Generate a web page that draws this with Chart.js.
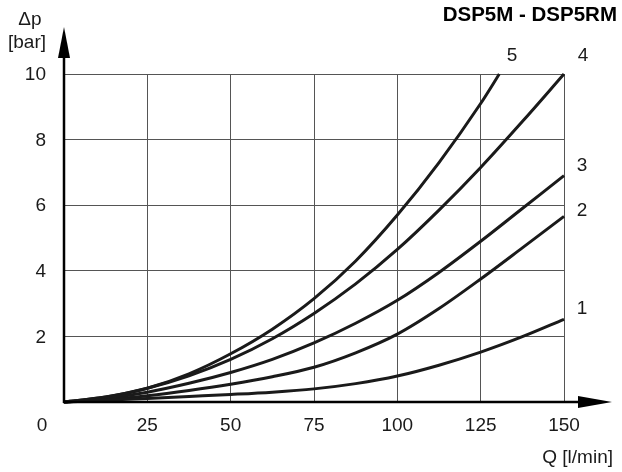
<!DOCTYPE html>
<html>
<head>
<meta charset="utf-8">
<script src="https://cdn.jsdelivr.net/npm/chart.js@4"></script>
<style>
  html, body { margin: 0; padding: 0; background: #fff; }
  #wrap { width: 622px; height: 472px; position: relative; }
</style>
</head>
<body>
<div id="wrap"><canvas id="myChart" width="622" height="472"></canvas></div>
<script>
// flow Q [l/min] and pressure drop [bar]
const xTicks = [25, 50, 75, 100, 125, 150];
const yTicks = [2, 4, 6, 8, 10];

const qAll = [0, 12.5, 25, 37.5, 50, 62.5, 75, 87.5, 100, 112.5, 125, 137.5, 150];
const dp1 = [0, 0.05, 0.11, 0.17, 0.23, 0.3, 0.4, 0.56, 0.79, 1.12, 1.52, 1.99, 2.52];
const dp2 = [0, 0.07, 0.19, 0.35, 0.54, 0.77, 1.06, 1.5, 2.07, 2.85, 3.75, 4.7, 5.66];
const dp3 = [0, 0.11, 0.3, 0.57, 0.9, 1.3, 1.8, 2.4, 3.1, 3.95, 4.9, 5.9, 6.9];
const dp4 = [0, 0.15, 0.42, 0.8, 1.3, 1.93, 2.7, 3.6, 4.65, 5.85, 7.15, 8.55, 10];

const q5 = [0, 12.5, 25, 37.5, 50, 62.5, 75, 87.5, 100, 112.5, 125, 130.6];
const dp5 = [0, 0.15, 0.42, 0.86, 1.47, 2.22, 3.15, 4.3, 5.7, 7.3, 9.1, 10];

const curveNames = ['1', '2', '3', '4', '5'];

function pts(xs, ys) {
    return ys.map((y, i) => ({ x: xs[i], y: y }));
}

const FONT = '"Liberation Sans", Arial, sans-serif';

const decor = {
    id: 'decor',
    afterDraw(chart) {
        const ctx = chart.ctx;
        const xs = chart.scales.x, ys = chart.scales.y;
        const x0 = xs.getPixelForValue(0), y0 = ys.getPixelForValue(0);
        ctx.save();
        // axes with arrows
        ctx.strokeStyle = '#000';
        ctx.fillStyle = '#000';
        ctx.lineWidth = 2.5;
        ctx.beginPath();
        ctx.moveTo(x0, y0 + 1);
        ctx.lineTo(x0, 50);
        ctx.moveTo(x0 - 1, y0);
        ctx.lineTo(585, y0);
        ctx.stroke();
        ctx.beginPath();
        ctx.moveTo(x0, 27);
        ctx.lineTo(x0 - 6, 58);
        ctx.lineTo(x0 + 6, 58);
        ctx.closePath();
        ctx.fill();
        ctx.beginPath();
        ctx.moveTo(612, y0);
        ctx.lineTo(578, y0 - 6);
        ctx.lineTo(578, y0 + 6);
        ctx.closePath();
        ctx.fill();

        // tick labels
        ctx.fillStyle = '#1a1a1a';
        ctx.font = '19px ' + FONT;
        ctx.textBaseline = 'middle';
        ctx.textAlign = 'center';
        xTicks.forEach(v => ctx.fillText(String(v), xs.getPixelForValue(v), 426));
        ctx.fillText('0', 42, 426);
        ctx.textAlign = 'right';
        yTicks.forEach(v => ctx.fillText(String(v), 46, ys.getPixelForValue(v) + 1));

        // axis titles
        ctx.textAlign = 'center';
        ctx.fillText('\u0394p', 30, 20);
        ctx.fillText('[bar]', 27, 43);
        ctx.textAlign = 'right';
        ctx.fillText('Q [l/min]', 613, 458);
        ctx.font = 'bold 20.5px ' + FONT;
        ctx.fillStyle = '#000';
        ctx.fillText('DSP5M - DSP5RM', 617, 15);

        // curve numbers
        ctx.font = '19px ' + FONT;
        ctx.fillStyle = '#1a1a1a';
        ctx.textAlign = 'center';
        const labelPos = [[582, 309], [582, 211], [582, 166], [583, 56], [512, 56]];
        curveNames.forEach((n, i) => ctx.fillText(n, labelPos[i][0], labelPos[i][1]));
        ctx.restore();
    }
};

const series = [[qAll, dp1], [qAll, dp2], [qAll, dp3], [qAll, dp4], [q5, dp5]];

const ctx = document.getElementById('myChart').getContext('2d');
const myChart = new Chart(ctx, {
    type: 'scatter',
    data: {
        datasets: series.map((s, i) => ({
            label: curveNames[i],
            data: pts(s[0], s[1]),
            showLine: true,
            borderColor: '#1a1a1a',
            borderWidth: 3,
            pointRadius: 0,
            cubicInterpolationMode: 'monotone',
            clip: false
        }))
    },
    options: {
        responsive: false,
        animation: false,
        layout: { padding: { left: 64, right: 58, top: 74, bottom: 70 } },
        plugins: { legend: { display: false }, tooltip: { enabled: false } },
        scales: {
            x: {
                type: 'linear', min: 0, max: 150,
                ticks: { display: false, stepSize: 25 },
                grid: { color: '#555', lineWidth: 1, drawTicks: false },
                border: { display: false }
            },
            y: {
                type: 'linear', min: 0, max: 10,
                ticks: { display: false, stepSize: 2 },
                grid: { color: '#555', lineWidth: 1, drawTicks: false },
                border: { display: false }
            }
        }
    },
    plugins: [decor]
});
</script>
</body>
</html>
